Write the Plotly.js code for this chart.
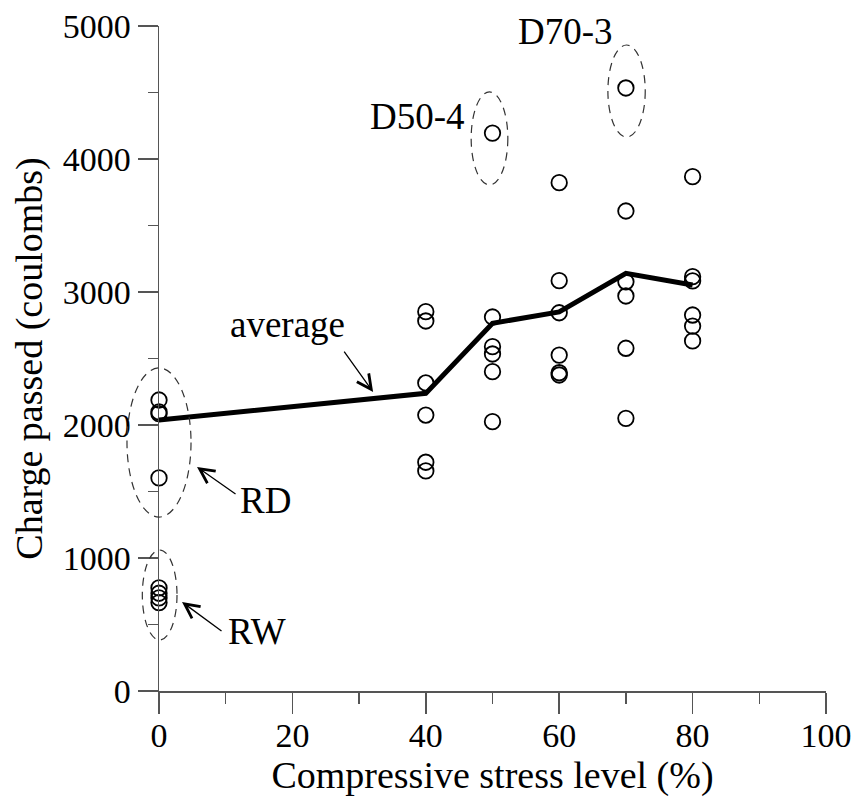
<!DOCTYPE html>
<html>
<head>
<meta charset="utf-8">
<script src="https://cdn.plot.ly/plotly-3.0.1.min.js"></script>
<style>html,body{margin:0;padding:0;background:#fff;}#chart{width:855px;height:808px;}</style>
</head>
<body>
<div id="chart"></div>
<script>
// Stress levels (%)
const stressLevels = [0, 40, 50, 60, 70, 80];
// Charge passed (coulombs) per specimen group
const chargeRD = [2188, 2098, 2085, 1602];
const chargeRW = [775, 735, 700, 665];
const charge40 = [2852, 2782, 2316, 2075, 1720, 1655];
const charge50 = [4195, 2812, 2589, 2534, 2401, 2025];
const charge60 = [3822, 3085, 2844, 2526, 2393, 2376];
const charge70 = [4534, 3609, 3077, 2970, 2577, 2050];
const charge80 = [3867, 3115, 3083, 2827, 2744, 2632];
// Average line
const averageCharge = [2038, 2238, 2765, 2850, 3140, 3053];

const groups = [
  [0, chargeRD], [0, chargeRW], [40, charge40], [50, charge50],
  [60, charge60], [70, charge70], [80, charge80]
];
const px = [], py = [];
groups.forEach(([s, vals]) => vals.forEach(v => { px.push(s); py.push(v); }));

const FONT = 'Liberation Serif, Times New Roman, serif';
const AX = '#555';

const traces = [
  {
    x: px, y: py, type: 'scatter', mode: 'markers', cliponaxis: false,
    marker: {symbol: 'circle-open', size: 15.5, color: '#000', line: {width: 1.8, color: '#000'}},
    hoverinfo: 'x+y', showlegend: false
  },
  {
    x: stressLevels, y: averageCharge, type: 'scatter', mode: 'lines', cliponaxis: false,
    line: {color: '#000', width: 5}, showlegend: false
  }
];

const ell = (xref, x0, x1, y0, y1) => ({
  type: 'circle', xref: xref, yref: 'y', x0: x0, x1: x1, y0: y0, y1: y1,
  line: {color: '#333', width: 1.2, dash: '8px,6px'}, layer: 'above'
});

const annFont = {family: FONT, size: 37, color: '#000'};
const arrow = (x, y, ax, ay) => ({
  x: x, y: y, xref: 'x', yref: 'y', text: '', showarrow: true,
  ax: ax, ay: ay, arrowhead: 5, arrowsize: 2.2, arrowwidth: 1.3, arrowcolor: '#000'
});
const label = (x, y, t) => ({x: x, y: y, xref: 'x', yref: 'y', text: t, showarrow: false, font: annFont});

const layout = {
  width: 855, height: 808,
  margin: {l: 159, r: 29, t: 26, b: 117},
  paper_bgcolor: '#fff', plot_bgcolor: '#fff',
  font: {family: FONT, color: '#000'},
  showlegend: false,
  xaxis: {
    range: [0, 100], dtick: 20, tick0: 0, automargin: 'bottom',
    ticks: 'outside', ticklen: 21, tickwidth: 1.5, tickcolor: AX,
    ticklabelstandoff: -7,
    showline: true, linecolor: AX, linewidth: 1.5,
    showgrid: false, zeroline: false,
    minor: {dtick: 10, ticks: 'outside', ticklen: 11, tickwidth: 1.5, tickcolor: AX, showgrid: false},
    tickfont: {family: FONT, size: 34, color: '#000'},
    title: {text: 'Compressive stress level (%)', font: {family: FONT, size: 38, color: '#000'}, standoff: 0}
  },
  yaxis: {
    range: [0, 5000], dtick: 1000, tick0: 0,
    ticks: 'outside', ticklen: 20, tickwidth: 1.5, tickcolor: AX,
    showline: true, linecolor: AX, linewidth: 1.5,
    showgrid: false, zeroline: false,
    minor: {dtick: 500, ticks: 'outside', ticklen: 10, tickwidth: 1.5, tickcolor: AX, showgrid: false},
    tickfont: {family: FONT, size: 34, color: '#000'},
    title: {text: 'Charge passed (coulombs)', font: {family: FONT, size: 38, color: '#000'}, standoff: 8}
  },
  shapes: [
    ell('paper', -0.048, 0.048, 1308, 2429),
    ell('paper', -0.025, 0.027, 383, 1060),
    ell('x', 46.8, 52.3, 3805, 4504),
    ell('x', 67.3, 72.9, 4165, 4857)
  ],
  annotations: [
    label(61.0, 4962, 'D70-3'),
    label(38.7, 4316, 'D50-4'),
    label(19.2, 2752, 'average'),
    label(15.9, 1436, 'RD'),
    label(14.7, 451, 'RW'),
    arrow(32.1, 2248, -30, -42),
    arrow(5.7, 1684, 40, 28),
    arrow(3.45, 669, 41, 30)
  ]
};

Plotly.newPlot('chart', traces, layout, {displayModeBar: false, staticPlot: true});
</script>
</body>
</html>
